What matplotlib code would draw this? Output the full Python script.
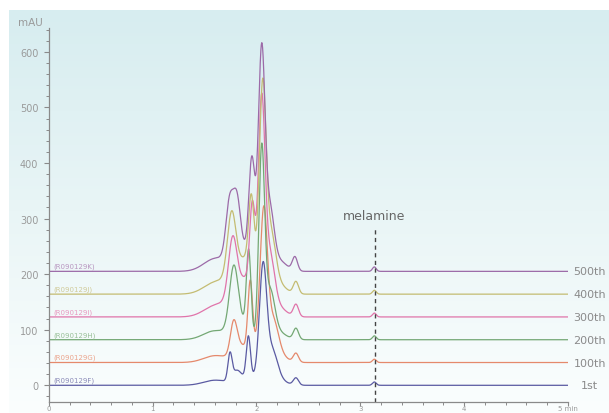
import numpy as np
import matplotlib
matplotlib.use("Agg")
import matplotlib.pyplot as plt
from matplotlib.colors import LinearSegmentedColormap

# ---------------- data ----------------
trace_names = ["1st", "100th", "200th", "300th", "400th", "500th"]
sample_ids = ["(R090129F)", "(R090129G)", "(R090129H)",
              "(R090129I)", "(R090129J)", "(R090129K)"]
baselines = [0, 41, 82, 123, 164, 205]          # mAU offsets of each trace
melamine_rt = 3.14
x_ticks = [0, 1, 2, 3, 4, 5]
x_tick_labels = ["0", "1", "2", "3", "4", "5 min"]
y_ticks = [0, 100, 200, 300, 400, 500, 600]

# peak tables per trace: retention time (min), height (mAU), sigma (min)
# components: hump, broad base, A, A2, B, main C, shoulder D, tail T, E, melamine
rt_1st = [1.60, 1.95, 1.745, 1.81, 1.922, 2.063, 2.15, 2.22, 2.38, 3.135]
h_1st = [9, 15, 48, 18, 74, 200, 55, 8, 13, 6]
w_1st = [0.11, 0.12, 0.02, 0.04, 0.02, 0.035, 0.05, 0.07, 0.025, 0.018]

rt_100 = [1.60, 1.95, 1.78, 1.83, 1.94, 2.07, 2.16, 2.23, 2.38, 3.135]
h_100 = [12, 30, 58, 10, 118, 250, 65, 10, 16, 6]
w_100 = [0.11, 0.12, 0.032, 0.04, 0.022, 0.035, 0.05, 0.07, 0.025, 0.018]

rt_200 = [1.60, 1.82, 1.78, 1.83, 1.925, 2.05, 2.13, 2.22, 2.38, 3.135]
h_200 = [16, 40, 96, 0, 150, 335, 85, 12, 20, 7]
w_200 = [0.11, 0.07, 0.04, 0.04, 0.022, 0.028, 0.045, 0.07, 0.025, 0.018]

rt_300 = [1.60, 1.90, 1.77, 1.83, 1.96, 2.05, 2.13, 2.22, 2.38, 3.135]
h_300 = [19, 70, 101, 0, 141, 350, 95, 15, 22, 7]
w_300 = [0.11, 0.12, 0.04, 0.04, 0.025, 0.032, 0.045, 0.07, 0.025, 0.018]

rt_400 = [1.60, 1.90, 1.76, 1.82, 1.95, 2.06, 2.14, 2.22, 2.38, 3.135]
h_400 = [20, 65, 110, 0, 120, 341, 95, 15, 22, 7]
w_400 = [0.11, 0.12, 0.04, 0.04, 0.025, 0.032, 0.045, 0.07, 0.025, 0.018]

rt_500 = [1.60, 1.90, 1.74, 1.81, 1.955, 2.05, 2.13, 2.22, 2.37, 3.135]
h_500 = [22, 40, 98, 98, 167, 378, 99, 18, 25, 8]
w_500 = [0.11, 0.12, 0.035, 0.035, 0.028, 0.032, 0.04, 0.07, 0.025, 0.018]

peak_tables = [(rt_1st, h_1st, w_1st), (rt_100, h_100, w_100),
               (rt_200, h_200, w_200), (rt_300, h_300, w_300),
               (rt_400, h_400, w_400), (rt_500, h_500, w_500)]

trace_colors = ["#5a5aa2", "#e5896c", "#74a874", "#e074aa", "#c4bc72", "#9c6aa8"]
label_colors = ["#8a8ab8", "#eba48c", "#98c098", "#e898c0", "#d0ca98", "#b896c0"]

# ---------------- figure ----------------
W, H = 609, 414
fig = plt.figure(figsize=(W / 100, H / 100), dpi=100)

# gradient background
bg = fig.add_axes([9 / W, 0, 1 - 9 / W, (H - 11) / H])
cmap = LinearSegmentedColormap.from_list("bg", ["#d7edf0", "#e9f5f6", "#fbfefe"])
grad = np.linspace(0, 1, 256).reshape(-1, 1)
bg.imshow(grad, aspect="auto", cmap=cmap, extent=[0, 1, 0, 1], origin="upper")
bg.set_axis_off()

x0, x5 = 48.8, 568.0
zero_px, ppu = 386.3, 0.5558          # pixel row of 0 mAU, pixels per mAU
y_bottom_px, y_top_px = 403.0, 29.3
ax = fig.add_axes([x0 / W, (H - y_bottom_px) / H, (x5 - x0) / W,
                   (y_bottom_px - y_top_px) / H])
ax.set_facecolor("none")
ax.set_xlim(0, 5)
ylo = (zero_px - y_bottom_px) / ppu
yhi = (zero_px - y_top_px) / ppu
ax.set_ylim(ylo, yhi)

t = np.linspace(0, 5, 4001)
for name, sid, base, (rts, hs, ws), col, lcol in zip(
        trace_names, sample_ids, baselines, peak_tables, trace_colors, label_colors):
    y = np.full_like(t, float(base))
    for r, h, w in zip(rts, hs, ws):
        y += h * np.exp(-0.5 * ((t - r) / w) ** 2)
    ax.plot(t, y, color=col, lw=0.9, solid_joinstyle="round")
    ax.text(0.04, base + 4, sid, fontsize=5, color=lcol, ha="left", va="bottom")
    ax.text(5.21, base, name, fontsize=8, color="#8a8a8a", ha="center", va="center",
            clip_on=False)

# melamine marker
ax.plot([melamine_rt, melamine_rt], [ylo, 283], ls=(0, (3, 2.5)), color="#444444",
        lw=1.0)
ax.text(melamine_rt - 0.01, 306, "melamine", fontsize=9, color="#666666",
        ha="center", va="center")

# axes styling
for s in ["top", "right"]:
    ax.spines[s].set_visible(False)
for s in ["left", "bottom"]:
    ax.spines[s].set_color("#8a8a8a")
    ax.spines[s].set_linewidth(0.9)

ax.set_xticks(x_ticks)
ax.set_xticklabels(x_tick_labels)
ax.set_xticks(np.arange(0, 5.01, 0.2), minor=True)
ax.set_yticks(y_ticks)
ax.set_yticks(np.arange(-20, 641, 20), minor=True)
ax.tick_params(axis="both", which="major", direction="out", length=3.5, width=0.8,
               colors="#8a8a8a", labelsize=7, labelcolor="#9a9a9a")
ax.tick_params(axis="both", which="minor", direction="out", length=2.5, width=0.7,
               colors="#8a8a8a")
ax.tick_params(axis="x", which="major", length=3, pad=-1, labelsize=5)
ax.tick_params(axis="y", which="major", pad=4)

fig.text(43 / W, 1 - 23 / H, "mAU", fontsize=7.5, color="#9a9a9a", ha="right",
         va="center")

fig.savefig("out.png", dpi=100)
